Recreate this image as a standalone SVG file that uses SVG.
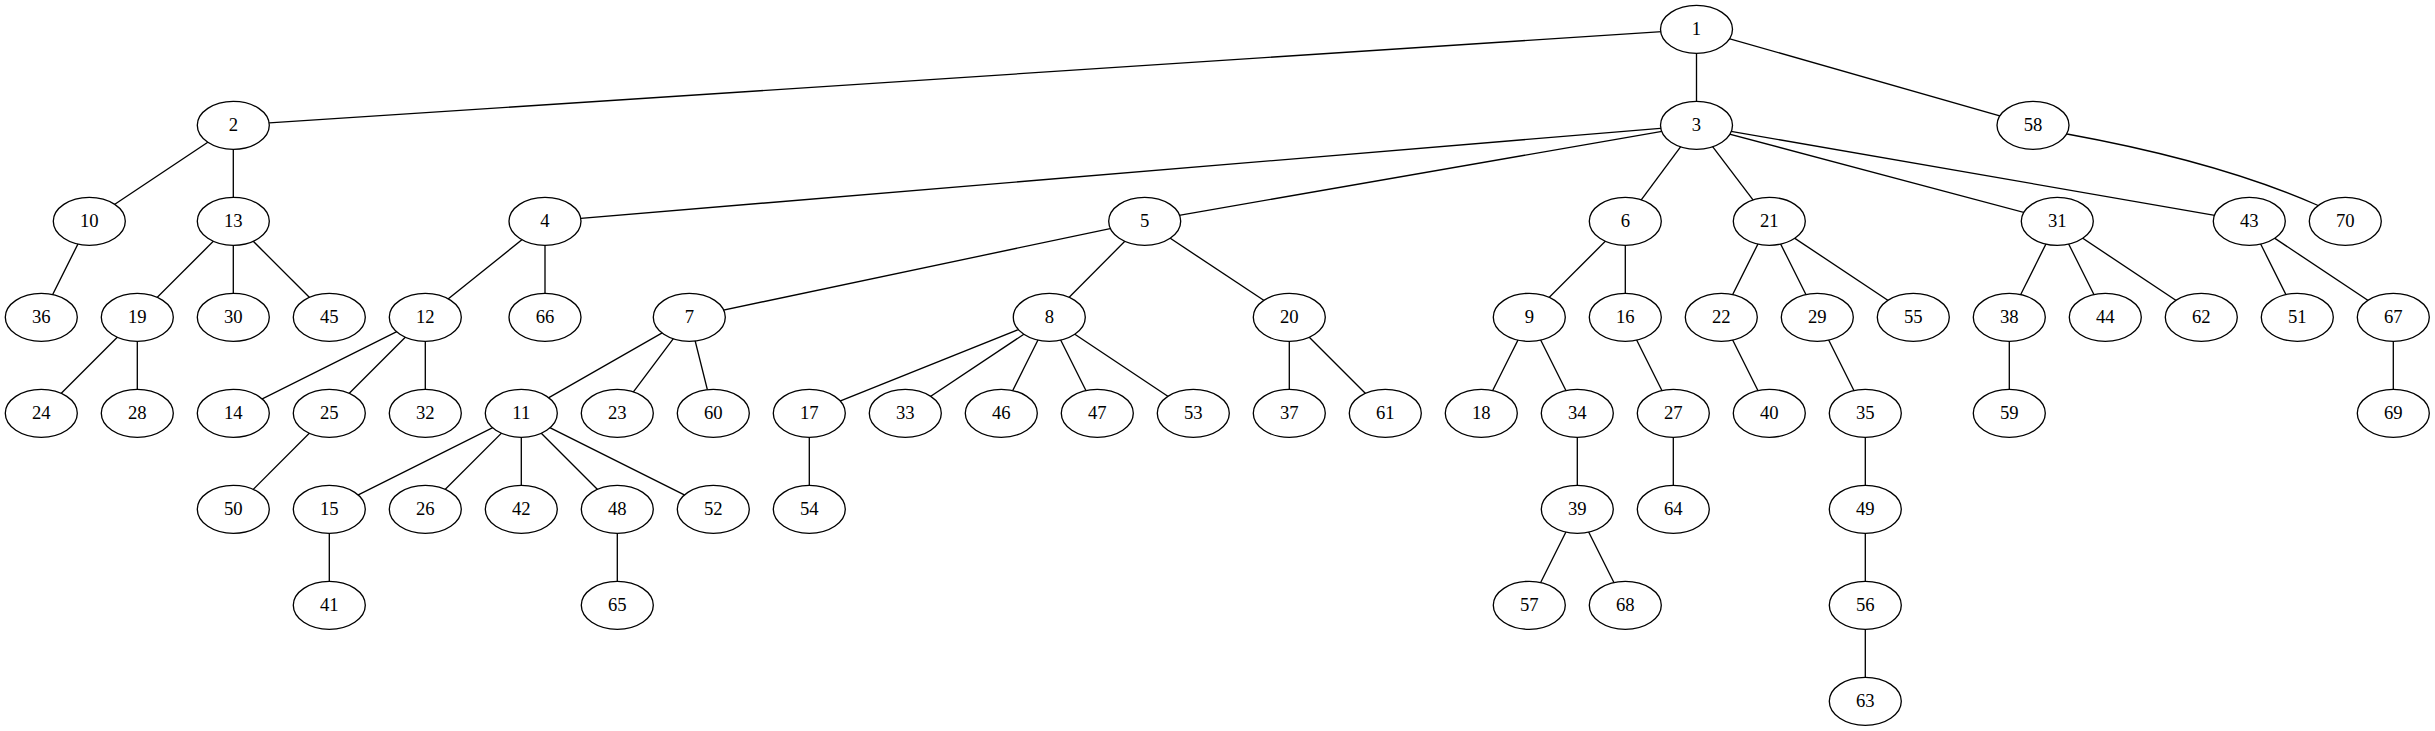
<svg xmlns="http://www.w3.org/2000/svg" width="2435" height="731" viewBox="0 0 2435 731">
<style>
.n ellipse{fill:#fff;stroke:#000;stroke-width:1.33}
.n text{font-family:"Liberation Serif","Times New Roman",serif;font-size:18.67px;text-anchor:middle;fill:#000}
#edges line,#edges path{stroke:#000;stroke-width:1.33;fill:none}
</style>
<rect width="2435" height="731" fill="#fff"/>
<g id="edges">
<line x1="1696.5" y1="29.3" x2="233.3" y2="125.3"/>
<line x1="1696.5" y1="29.3" x2="1696.5" y2="125.3"/>
<line x1="1696.5" y1="29.3" x2="2033" y2="125.3"/>
<path d="M2033,125.3 L2067,134 Q2218,161.5 2317,205 L2345.3,221.3"/>
<line x1="233.3" y1="125.3" x2="89.3" y2="221.3"/>
<line x1="233.3" y1="125.3" x2="233.3" y2="221.3"/>
<line x1="89.3" y1="221.3" x2="41.3" y2="317.3"/>
<line x1="233.3" y1="221.3" x2="137.3" y2="317.3"/>
<line x1="233.3" y1="221.3" x2="233.3" y2="317.3"/>
<line x1="233.3" y1="221.3" x2="329.3" y2="317.3"/>
<line x1="137.3" y1="317.3" x2="41.3" y2="413.3"/>
<line x1="137.3" y1="317.3" x2="137.3" y2="413.3"/>
<line x1="1696.5" y1="125.3" x2="545" y2="221.3"/>
<line x1="1696.5" y1="125.3" x2="1144.7" y2="221.3"/>
<line x1="1696.5" y1="125.3" x2="1625.3" y2="221.3"/>
<line x1="1696.5" y1="125.3" x2="1769.3" y2="221.3"/>
<line x1="1696.5" y1="125.3" x2="2057.3" y2="221.3"/>
<line x1="1696.5" y1="125.3" x2="2249.3" y2="221.3"/>
<line x1="545" y1="221.3" x2="425.3" y2="317.3"/>
<line x1="545" y1="221.3" x2="545" y2="317.3"/>
<line x1="425.3" y1="317.3" x2="233.3" y2="413.3"/>
<line x1="425.3" y1="317.3" x2="329.3" y2="413.3"/>
<line x1="425.3" y1="317.3" x2="425.3" y2="413.3"/>
<line x1="329.3" y1="413.3" x2="233.3" y2="509.3"/>
<line x1="1144.7" y1="221.3" x2="689.3" y2="317.3"/>
<line x1="1144.7" y1="221.3" x2="1049.3" y2="317.3"/>
<line x1="1144.7" y1="221.3" x2="1289.3" y2="317.3"/>
<line x1="689.3" y1="317.3" x2="521.3" y2="413.3"/>
<line x1="689.3" y1="317.3" x2="617.3" y2="413.3"/>
<line x1="689.3" y1="317.3" x2="713.3" y2="413.3"/>
<line x1="521.3" y1="413.3" x2="329.3" y2="509.3"/>
<line x1="521.3" y1="413.3" x2="425.3" y2="509.3"/>
<line x1="521.3" y1="413.3" x2="521.3" y2="509.3"/>
<line x1="521.3" y1="413.3" x2="617.3" y2="509.3"/>
<line x1="521.3" y1="413.3" x2="713.3" y2="509.3"/>
<line x1="329.3" y1="509.3" x2="329.3" y2="605.3"/>
<line x1="617.3" y1="509.3" x2="617.3" y2="605.3"/>
<line x1="1049.3" y1="317.3" x2="809.3" y2="413.3"/>
<line x1="1049.3" y1="317.3" x2="905.3" y2="413.3"/>
<line x1="1049.3" y1="317.3" x2="1001.3" y2="413.3"/>
<line x1="1049.3" y1="317.3" x2="1097.3" y2="413.3"/>
<line x1="1049.3" y1="317.3" x2="1193.3" y2="413.3"/>
<line x1="809.3" y1="413.3" x2="809.3" y2="509.3"/>
<line x1="1289.3" y1="317.3" x2="1289.3" y2="413.3"/>
<line x1="1289.3" y1="317.3" x2="1385.3" y2="413.3"/>
<line x1="1625.3" y1="221.3" x2="1529.3" y2="317.3"/>
<line x1="1625.3" y1="221.3" x2="1625.3" y2="317.3"/>
<line x1="1529.3" y1="317.3" x2="1481.3" y2="413.3"/>
<line x1="1529.3" y1="317.3" x2="1577.3" y2="413.3"/>
<line x1="1577.3" y1="413.3" x2="1577.3" y2="509.3"/>
<line x1="1577.3" y1="509.3" x2="1529.3" y2="605.3"/>
<line x1="1577.3" y1="509.3" x2="1625.3" y2="605.3"/>
<line x1="1625.3" y1="317.3" x2="1673.3" y2="413.3"/>
<line x1="1673.3" y1="413.3" x2="1673.3" y2="509.3"/>
<line x1="1769.3" y1="221.3" x2="1721.3" y2="317.3"/>
<line x1="1769.3" y1="221.3" x2="1817.3" y2="317.3"/>
<line x1="1769.3" y1="221.3" x2="1913.3" y2="317.3"/>
<line x1="1721.3" y1="317.3" x2="1769.3" y2="413.3"/>
<line x1="1817.3" y1="317.3" x2="1865.3" y2="413.3"/>
<line x1="1865.3" y1="413.3" x2="1865.3" y2="509.3"/>
<line x1="1865.3" y1="509.3" x2="1865.3" y2="605.3"/>
<line x1="1865.3" y1="605.3" x2="1865.3" y2="701.3"/>
<line x1="2057.3" y1="221.3" x2="2009.3" y2="317.3"/>
<line x1="2057.3" y1="221.3" x2="2105.3" y2="317.3"/>
<line x1="2057.3" y1="221.3" x2="2201.3" y2="317.3"/>
<line x1="2009.3" y1="317.3" x2="2009.3" y2="413.3"/>
<line x1="2249.3" y1="221.3" x2="2297.3" y2="317.3"/>
<line x1="2249.3" y1="221.3" x2="2393.3" y2="317.3"/>
<line x1="2393.3" y1="317.3" x2="2393.3" y2="413.3"/>
</g>
<g id="node-1" class="n"><ellipse cx="1696.5" cy="29.3" rx="36" ry="24"/><text x="1696.5" y="35.3">1</text></g>
<g id="node-2" class="n"><ellipse cx="233.3" cy="125.3" rx="36" ry="24"/><text x="233.3" y="131.3">2</text></g>
<g id="node-3" class="n"><ellipse cx="1696.5" cy="125.3" rx="36" ry="24"/><text x="1696.5" y="131.3">3</text></g>
<g id="node-58" class="n"><ellipse cx="2033" cy="125.3" rx="36" ry="24"/><text x="2033" y="131.3">58</text></g>
<g id="node-10" class="n"><ellipse cx="89.3" cy="221.3" rx="36" ry="24"/><text x="89.3" y="227.3">10</text></g>
<g id="node-13" class="n"><ellipse cx="233.3" cy="221.3" rx="36" ry="24"/><text x="233.3" y="227.3">13</text></g>
<g id="node-4" class="n"><ellipse cx="545" cy="221.3" rx="36" ry="24"/><text x="545" y="227.3">4</text></g>
<g id="node-5" class="n"><ellipse cx="1144.7" cy="221.3" rx="36" ry="24"/><text x="1144.7" y="227.3">5</text></g>
<g id="node-6" class="n"><ellipse cx="1625.3" cy="221.3" rx="36" ry="24"/><text x="1625.3" y="227.3">6</text></g>
<g id="node-21" class="n"><ellipse cx="1769.3" cy="221.3" rx="36" ry="24"/><text x="1769.3" y="227.3">21</text></g>
<g id="node-31" class="n"><ellipse cx="2057.3" cy="221.3" rx="36" ry="24"/><text x="2057.3" y="227.3">31</text></g>
<g id="node-43" class="n"><ellipse cx="2249.3" cy="221.3" rx="36" ry="24"/><text x="2249.3" y="227.3">43</text></g>
<g id="node-70" class="n"><ellipse cx="2345.3" cy="221.3" rx="36" ry="24"/><text x="2345.3" y="227.3">70</text></g>
<g id="node-36" class="n"><ellipse cx="41.3" cy="317.3" rx="36" ry="24"/><text x="41.3" y="323.3">36</text></g>
<g id="node-19" class="n"><ellipse cx="137.3" cy="317.3" rx="36" ry="24"/><text x="137.3" y="323.3">19</text></g>
<g id="node-30" class="n"><ellipse cx="233.3" cy="317.3" rx="36" ry="24"/><text x="233.3" y="323.3">30</text></g>
<g id="node-45" class="n"><ellipse cx="329.3" cy="317.3" rx="36" ry="24"/><text x="329.3" y="323.3">45</text></g>
<g id="node-12" class="n"><ellipse cx="425.3" cy="317.3" rx="36" ry="24"/><text x="425.3" y="323.3">12</text></g>
<g id="node-66" class="n"><ellipse cx="545" cy="317.3" rx="36" ry="24"/><text x="545" y="323.3">66</text></g>
<g id="node-7" class="n"><ellipse cx="689.3" cy="317.3" rx="36" ry="24"/><text x="689.3" y="323.3">7</text></g>
<g id="node-8" class="n"><ellipse cx="1049.3" cy="317.3" rx="36" ry="24"/><text x="1049.3" y="323.3">8</text></g>
<g id="node-20" class="n"><ellipse cx="1289.3" cy="317.3" rx="36" ry="24"/><text x="1289.3" y="323.3">20</text></g>
<g id="node-9" class="n"><ellipse cx="1529.3" cy="317.3" rx="36" ry="24"/><text x="1529.3" y="323.3">9</text></g>
<g id="node-16" class="n"><ellipse cx="1625.3" cy="317.3" rx="36" ry="24"/><text x="1625.3" y="323.3">16</text></g>
<g id="node-22" class="n"><ellipse cx="1721.3" cy="317.3" rx="36" ry="24"/><text x="1721.3" y="323.3">22</text></g>
<g id="node-29" class="n"><ellipse cx="1817.3" cy="317.3" rx="36" ry="24"/><text x="1817.3" y="323.3">29</text></g>
<g id="node-55" class="n"><ellipse cx="1913.3" cy="317.3" rx="36" ry="24"/><text x="1913.3" y="323.3">55</text></g>
<g id="node-38" class="n"><ellipse cx="2009.3" cy="317.3" rx="36" ry="24"/><text x="2009.3" y="323.3">38</text></g>
<g id="node-44" class="n"><ellipse cx="2105.3" cy="317.3" rx="36" ry="24"/><text x="2105.3" y="323.3">44</text></g>
<g id="node-62" class="n"><ellipse cx="2201.3" cy="317.3" rx="36" ry="24"/><text x="2201.3" y="323.3">62</text></g>
<g id="node-51" class="n"><ellipse cx="2297.3" cy="317.3" rx="36" ry="24"/><text x="2297.3" y="323.3">51</text></g>
<g id="node-67" class="n"><ellipse cx="2393.3" cy="317.3" rx="36" ry="24"/><text x="2393.3" y="323.3">67</text></g>
<g id="node-24" class="n"><ellipse cx="41.3" cy="413.3" rx="36" ry="24"/><text x="41.3" y="419.3">24</text></g>
<g id="node-28" class="n"><ellipse cx="137.3" cy="413.3" rx="36" ry="24"/><text x="137.3" y="419.3">28</text></g>
<g id="node-14" class="n"><ellipse cx="233.3" cy="413.3" rx="36" ry="24"/><text x="233.3" y="419.3">14</text></g>
<g id="node-25" class="n"><ellipse cx="329.3" cy="413.3" rx="36" ry="24"/><text x="329.3" y="419.3">25</text></g>
<g id="node-32" class="n"><ellipse cx="425.3" cy="413.3" rx="36" ry="24"/><text x="425.3" y="419.3">32</text></g>
<g id="node-11" class="n"><ellipse cx="521.3" cy="413.3" rx="36" ry="24"/><text x="521.3" y="419.3">11</text></g>
<g id="node-23" class="n"><ellipse cx="617.3" cy="413.3" rx="36" ry="24"/><text x="617.3" y="419.3">23</text></g>
<g id="node-60" class="n"><ellipse cx="713.3" cy="413.3" rx="36" ry="24"/><text x="713.3" y="419.3">60</text></g>
<g id="node-17" class="n"><ellipse cx="809.3" cy="413.3" rx="36" ry="24"/><text x="809.3" y="419.3">17</text></g>
<g id="node-33" class="n"><ellipse cx="905.3" cy="413.3" rx="36" ry="24"/><text x="905.3" y="419.3">33</text></g>
<g id="node-46" class="n"><ellipse cx="1001.3" cy="413.3" rx="36" ry="24"/><text x="1001.3" y="419.3">46</text></g>
<g id="node-47" class="n"><ellipse cx="1097.3" cy="413.3" rx="36" ry="24"/><text x="1097.3" y="419.3">47</text></g>
<g id="node-53" class="n"><ellipse cx="1193.3" cy="413.3" rx="36" ry="24"/><text x="1193.3" y="419.3">53</text></g>
<g id="node-37" class="n"><ellipse cx="1289.3" cy="413.3" rx="36" ry="24"/><text x="1289.3" y="419.3">37</text></g>
<g id="node-61" class="n"><ellipse cx="1385.3" cy="413.3" rx="36" ry="24"/><text x="1385.3" y="419.3">61</text></g>
<g id="node-18" class="n"><ellipse cx="1481.3" cy="413.3" rx="36" ry="24"/><text x="1481.3" y="419.3">18</text></g>
<g id="node-34" class="n"><ellipse cx="1577.3" cy="413.3" rx="36" ry="24"/><text x="1577.3" y="419.3">34</text></g>
<g id="node-27" class="n"><ellipse cx="1673.3" cy="413.3" rx="36" ry="24"/><text x="1673.3" y="419.3">27</text></g>
<g id="node-40" class="n"><ellipse cx="1769.3" cy="413.3" rx="36" ry="24"/><text x="1769.3" y="419.3">40</text></g>
<g id="node-35" class="n"><ellipse cx="1865.3" cy="413.3" rx="36" ry="24"/><text x="1865.3" y="419.3">35</text></g>
<g id="node-59" class="n"><ellipse cx="2009.3" cy="413.3" rx="36" ry="24"/><text x="2009.3" y="419.3">59</text></g>
<g id="node-69" class="n"><ellipse cx="2393.3" cy="413.3" rx="36" ry="24"/><text x="2393.3" y="419.3">69</text></g>
<g id="node-50" class="n"><ellipse cx="233.3" cy="509.3" rx="36" ry="24"/><text x="233.3" y="515.3">50</text></g>
<g id="node-15" class="n"><ellipse cx="329.3" cy="509.3" rx="36" ry="24"/><text x="329.3" y="515.3">15</text></g>
<g id="node-26" class="n"><ellipse cx="425.3" cy="509.3" rx="36" ry="24"/><text x="425.3" y="515.3">26</text></g>
<g id="node-42" class="n"><ellipse cx="521.3" cy="509.3" rx="36" ry="24"/><text x="521.3" y="515.3">42</text></g>
<g id="node-48" class="n"><ellipse cx="617.3" cy="509.3" rx="36" ry="24"/><text x="617.3" y="515.3">48</text></g>
<g id="node-52" class="n"><ellipse cx="713.3" cy="509.3" rx="36" ry="24"/><text x="713.3" y="515.3">52</text></g>
<g id="node-54" class="n"><ellipse cx="809.3" cy="509.3" rx="36" ry="24"/><text x="809.3" y="515.3">54</text></g>
<g id="node-39" class="n"><ellipse cx="1577.3" cy="509.3" rx="36" ry="24"/><text x="1577.3" y="515.3">39</text></g>
<g id="node-64" class="n"><ellipse cx="1673.3" cy="509.3" rx="36" ry="24"/><text x="1673.3" y="515.3">64</text></g>
<g id="node-49" class="n"><ellipse cx="1865.3" cy="509.3" rx="36" ry="24"/><text x="1865.3" y="515.3">49</text></g>
<g id="node-41" class="n"><ellipse cx="329.3" cy="605.3" rx="36" ry="24"/><text x="329.3" y="611.3">41</text></g>
<g id="node-65" class="n"><ellipse cx="617.3" cy="605.3" rx="36" ry="24"/><text x="617.3" y="611.3">65</text></g>
<g id="node-57" class="n"><ellipse cx="1529.3" cy="605.3" rx="36" ry="24"/><text x="1529.3" y="611.3">57</text></g>
<g id="node-68" class="n"><ellipse cx="1625.3" cy="605.3" rx="36" ry="24"/><text x="1625.3" y="611.3">68</text></g>
<g id="node-56" class="n"><ellipse cx="1865.3" cy="605.3" rx="36" ry="24"/><text x="1865.3" y="611.3">56</text></g>
<g id="node-63" class="n"><ellipse cx="1865.3" cy="701.3" rx="36" ry="24"/><text x="1865.3" y="707.3">63</text></g>
</svg>
